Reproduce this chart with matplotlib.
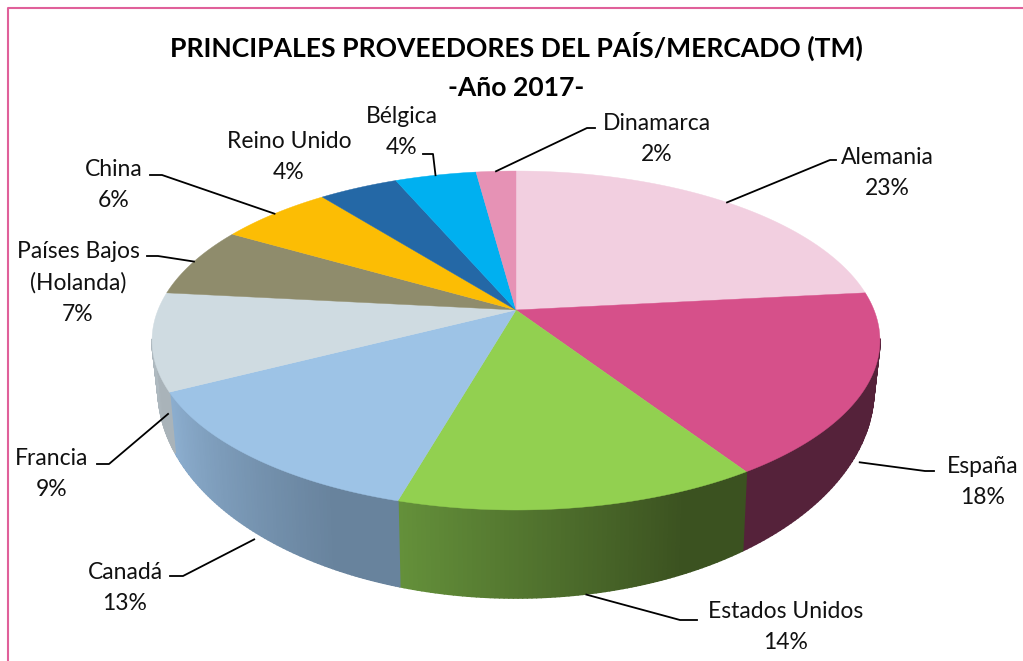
import numpy as np
import matplotlib
matplotlib.use("Agg")
import matplotlib.pyplot as plt
from matplotlib.collections import PolyCollection

plt.rcParams['font.family'] = ['Lato', 'DejaVu Sans']

# Datos
paises = ["Alemania", "España", "Estados Unidos", "Canadá", "Francia",
          "Países Bajos\n(Holanda)", "China", "Reino Unido", "Bélgica", "Dinamarca"]
valores = [23.3, 17.5, 13.6, 13.0, 9.3, 6.7, 6.0, 4.2, 4.3, 2.1]
colores = ["#F2CFE0", "#D6508A", "#92D050", "#9DC3E6", "#CFDBE1",
           "#8F8C6C", "#FCBD04", "#2468A6", "#00B0F0", "#E692B5"]
lateral_izq = ["#F2CFE0", "#55223A", "#64903A", "#8CAECF", "#B8C4CB",
               "#8F8C6C", "#FCBD04", "#2468A6", "#00B0F0", "#E692B5"]
lateral_der = ["#F2CFE0", "#55223A", "#3B5220", "#68839D", "#A9B3B9",
               "#8F8C6C", "#FCBD04", "#2468A6", "#00B0F0", "#E692B5"]

# Posicion de etiquetas (centro del texto, codo de la guia, fin de la guia)
pos_texto = [(887, 173), (983, 482), (786, 627), (125, 588), (52, 474),
             (78, 283), (114, 185), (289, 157), (402, 132), (657, 139)]
codos = [(830, 160), (925, 471), (680, 620), (183, 576), (109, 464),
         (158, 256), (162, 175), None, (433, 154), (587, 128)]
finales = [(836, 160), (934, 471), (697, 620), (170, 576), (97, 464),
           (147, 256), (150, 175), None, (423, 154), (595, 128)]
desde_abajo = [False, True, True, True, True, False, False, False, False, False]
ajuste = [(0, 0), (-1, 17), (6, 0), (-3, 6), (10, 24), (0, 0), (0, 0), (0, 0), (0, 0), (0, 0)]

# Geometria del pastel en perspectiva
CX, CY = 516, 310
K, S, R = 0.18, 164, 358
RX, RY, CY_ELIPSE = 364, 169.5, 340.5
RX_BAJO, RY_BAJO, CY_BAJO = 358, 209, 389


def disco(ang):
    u, v = np.sin(ang), np.cos(ang)
    w = 1 + K * v
    return CX + R * u / w, CY - S * v / w


def borde_bajo(x, y):
    dx = (x - CX) / RX
    dy = (y - CY_ELIPSE) / RY
    return CX + RX_BAJO * dx, CY_BAJO + RY_BAJO * dy


def mezcla(c1, c2, t):
    a = np.array(matplotlib.colors.to_rgb(c1))
    b = np.array(matplotlib.colors.to_rgb(c2))
    return tuple(a + (b - a) * t)


fig = plt.figure(figsize=(10.23, 6.61), dpi=100)
ax = fig.add_axes([0, 0, 1, 1])
ax.set_xlim(0, 1023)
ax.set_ylim(661, 0)
ax.axis("off")

# Marco
ax.plot([7.5, 7.5, 1023], [661, 7.5, 7.5], color="#E0609A", lw=1.5, solid_capstyle="butt")

fracs = np.array(valores) / sum(valores)
limites = np.concatenate([[0], np.cumsum(fracs)]) * 2 * np.pi

# Lateral: tiras finas para el degradado
for i in range(len(valores)):
    angs = np.linspace(limites[i], limites[i + 1], 80)
    xs, ys = disco(angs)
    xb, yb = borde_bajo(xs, ys)
    quads, cols = [], []
    for j in range(len(angs) - 1):
        if ys[j] < CY_ELIPSE and ys[j + 1] < CY_ELIPSE:
            continue
        quads.append([(xs[j], ys[j]), (xs[j + 1], ys[j + 1]), (xb[j + 1], yb[j + 1]), (xb[j], yb[j])])
        # el degradado va de izquierda a derecha en pantalla, llega al tono oscuro antes del final
        t = j / (len(angs) - 2)
        cols.append(mezcla(lateral_der[i], lateral_izq[i], max(0, (t - 0.2) / 0.8)))
    if quads:
        ax.add_collection(PolyCollection(quads, facecolors=cols, edgecolors=cols, linewidths=1.2, zorder=2))

# Tapa
for i in range(len(valores)):
    angs = np.linspace(limites[i], limites[i + 1], 120)
    xs, ys = disco(angs)
    ax.fill(np.r_[CX, xs], np.r_[CY, ys], color=colores[i], lw=0.3, zorder=3)

# Etiquetas y guias
for i, pais in enumerate(paises):
    porcentaje = f"{round(valores[i])}%"
    ax.text(pos_texto[i][0], pos_texto[i][1], pais + "\n" + porcentaje, ha="center", va="center",
            fontsize=16.5, color="#111111", linespacing=1.6, zorder=5)
    if codos[i] is None:
        continue
    x0, y0 = disco((limites[i] + limites[i + 1]) / 2)
    if desde_abajo[i]:
        x0, y0 = borde_bajo(x0, y0)
    x0 += ajuste[i][0]
    y0 += ajuste[i][1]
    ax.plot([x0, codos[i][0], finales[i][0]], [y0, codos[i][1], finales[i][1]],
            color="black", lw=1.3, zorder=4, solid_joinstyle="round")

# Titulo
ax.text(516, 66, "PRINCIPALES PROVEEDORES DEL PAÍS/MERCADO (TM)\n-Año 2017-", ha="center", va="center",
        fontsize=19.1, fontweight="bold", color="black", linespacing=1.72, zorder=5)

fig.savefig("out.png", dpi=100, facecolor="white")
